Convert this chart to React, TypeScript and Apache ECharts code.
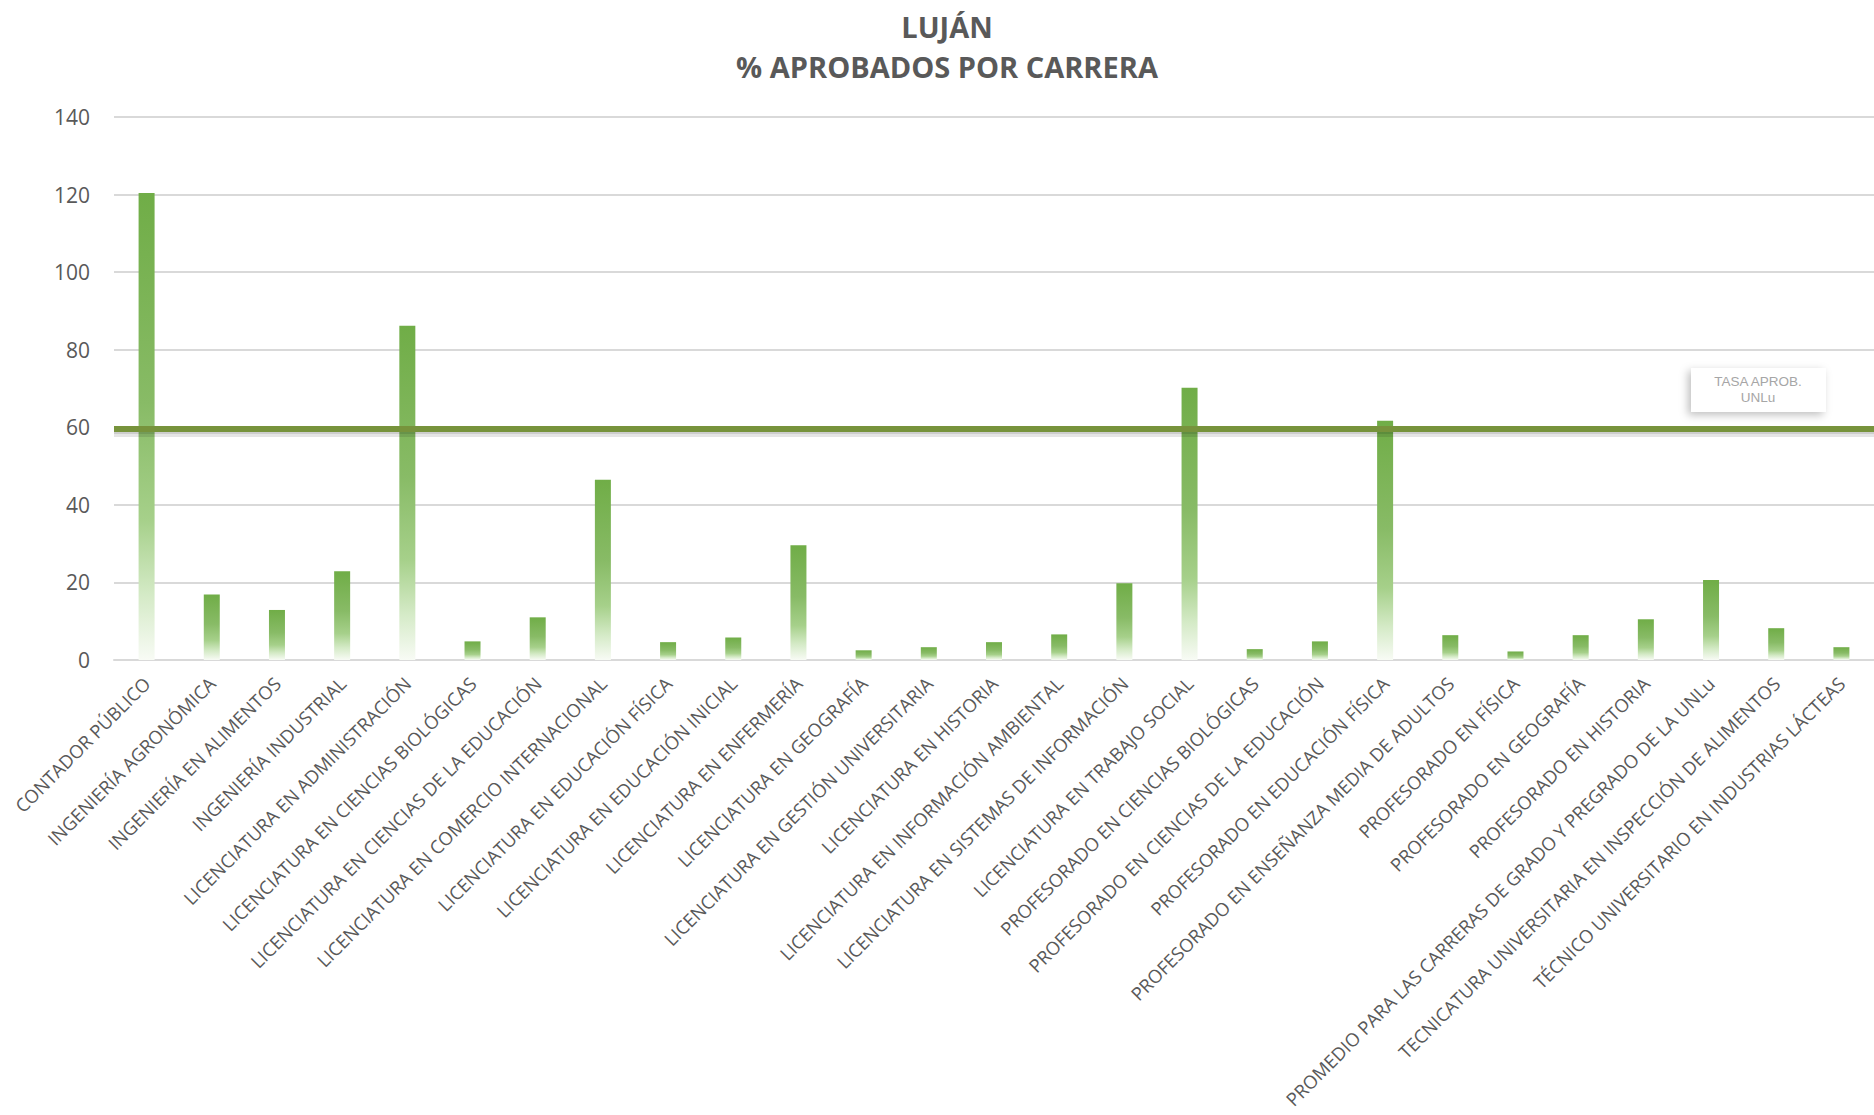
import React, { useEffect, useRef } from "react";
import * as echarts from "echarts";

const categories = [
  "CONTADOR PÚBLICO",
  "INGENIERÍA AGRONÓMICA",
  "INGENIERÍA EN ALIMENTOS",
  "INGENIERÍA INDUSTRIAL",
  "LICENCIATURA EN ADMINISTRACIÓN",
  "LICENCIATURA EN CIENCIAS BIOLÓGICAS",
  "LICENCIATURA EN CIENCIAS DE LA EDUCACIÓN",
  "LICENCIATURA EN COMERCIO INTERNACIONAL",
  "LICENCIATURA EN EDUCACIÓN FÍSICA",
  "LICENCIATURA EN EDUCACIÓN INICIAL",
  "LICENCIATURA EN ENFERMERÍA",
  "LICENCIATURA EN GEOGRAFÍA",
  "LICENCIATURA EN GESTIÓN UNIVERSITARIA",
  "LICENCIATURA EN HISTORIA",
  "LICENCIATURA EN INFORMACIÓN AMBIENTAL",
  "LICENCIATURA EN SISTEMAS DE INFORMACIÓN",
  "LICENCIATURA EN TRABAJO SOCIAL",
  "PROFESORADO EN CIENCIAS BIOLÓGICAS",
  "PROFESORADO EN CIENCIAS DE LA EDUCACIÓN",
  "PROFESORADO EN EDUCACIÓN FÍSICA",
  "PROFESORADO EN ENSEÑANZA MEDIA DE ADULTOS",
  "PROFESORADO EN FÍSICA",
  "PROFESORADO EN GEOGRAFÍA",
  "PROFESORADO EN HISTORIA",
  "PROMEDIO PARA LAS CARRERAS DE GRADO Y PREGRADO DE LA UNLu",
  "TECNICATURA UNIVERSITARIA EN INSPECCIÓN DE ALIMENTOS",
  "TÉCNICO UNIVERSITARIO EN INDUSTRIAS LÁCTEAS",
];

const aprobados = [
  120.4, 16.9, 12.9, 22.9, 86.2, 4.8, 11.0, 46.5, 4.6, 5.8, 29.6, 2.5, 3.3, 4.6,
  6.6, 19.8, 70.2, 2.8, 4.8, 61.7, 6.4, 2.2, 6.4, 10.5, 20.6, 8.2, 3.3,
];

const tasaUNLu = 59.7;
const tasaLabel = "TASA APROB.\nUNLu";
const titleText = "LUJÁN\n% APROBADOS POR CARRERA";

export default function App() {
  const ref = useRef<HTMLDivElement>(null);
  useEffect(() => {
    document.body.style.margin = "0";
    const chart = echarts.init(ref.current!, null, { renderer: "svg" });
    const font = "'Open Sans', sans-serif";
    chart.setOption({
      animation: false,
      backgroundColor: "#ffffff",
      grid: { left: 114, right: 0, top: 117, bottom: 455, containLabel: false },
      xAxis: {
        type: "category",
        data: categories,
        axisLine: { show: true, lineStyle: { color: "#D9D9D9", width: 2 } },
        axisTick: { show: false },
        axisLabel: {
          interval: 0,
          rotate: 45,
          margin: 20,
          fontFamily: font,
          fontSize: 18.4,
          color: "#595959",
        },
      },
      yAxis: {
        type: "value",
        min: 0,
        max: 140,
        interval: 20,
        axisLine: { show: false },
        axisTick: { show: false },
        axisLabel: { fontFamily: font, fontSize: 21, color: "#595959", margin: 24 },
        splitLine: { lineStyle: { color: "#D9D9D9", width: 2 } },
      },
      series: [
        {
          type: "bar",
          data: aprobados,
          barWidth: 16,
          itemStyle: {
            color: new echarts.graphic.LinearGradient(0, 0, 0, 1, [
              { offset: 0, color: "#70AD47" },
              { offset: 0.45, color: "#88BB66" },
              { offset: 0.7, color: "#A6D08A" },
              { offset: 0.86, color: "#D4EAC6" },
              { offset: 1, color: "#F8FBF5" },
            ]),
          },
          markLine: {
            silent: true,
            symbol: "none",
            label: { show: false },
            data: [
              {
                yAxis: tasaUNLu - 0.9,
                lineStyle: { color: "rgba(0,0,0,0.10)", width: 9, type: "solid" },
              },
              {
                yAxis: tasaUNLu - 0.5,
                lineStyle: { color: "rgba(0,0,0,0.10)", width: 6, type: "solid" },
              },
              {
                yAxis: tasaUNLu,
                lineStyle: { color: "#77933C", width: 6, type: "solid" },
              },
            ],
          },
          z: 2,
        },
      ],
      graphic: [
        {
          type: "text",
          x: 947,
          y: 6,
          z: 10,
          style: {
            text: titleText,
            fill: "#595959",
            font: "bold 29px 'Open Sans', sans-serif",
            align: "center",
            verticalAlign: "top",
            lineHeight: 40,
          },
        },
        {
          type: "group",
          left: 1691,
          top: 368,
          z: 10,
          children: [
            {
              type: "rect",
              shape: { x: 0, y: 0, width: 135, height: 44 },
              style: {
                fill: "#ffffff",
                shadowColor: "rgba(0,0,0,0.25)",
                shadowBlur: 8,
                shadowOffsetX: -3,
                shadowOffsetY: 3,
              },
            },
            {
              type: "text",
              x: 67,
              y: 5,
              style: {
                text: tasaLabel,
                fill: "#A6A6A6",
                font: "13.5px 'Liberation Sans', Arial, sans-serif",
                align: "center",
                lineHeight: 16,
              },
            },
          ],
        },
      ],
    });
    return () => chart.dispose();
  }, []);
  return <div ref={ref} style={{ width: 1874, height: 1115 }} />;
}
